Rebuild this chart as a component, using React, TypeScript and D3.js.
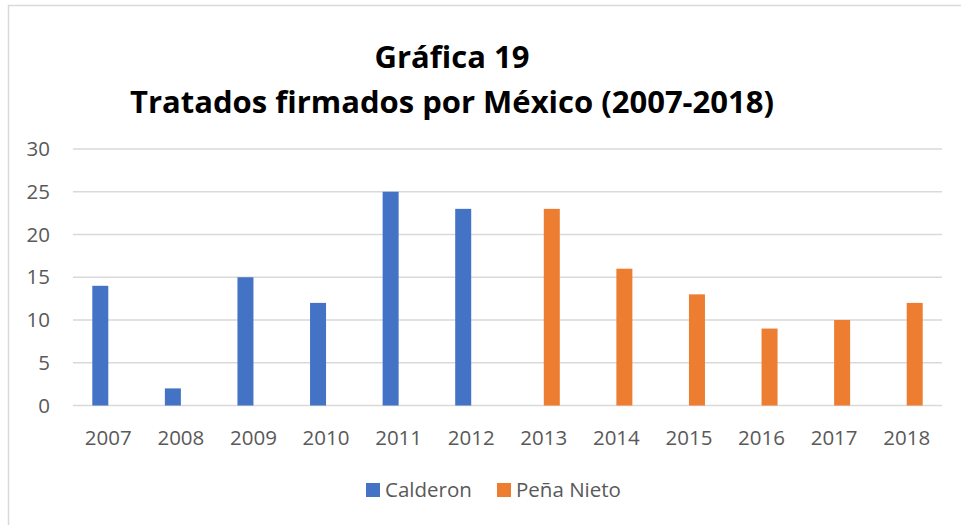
import React from "react";
import * as d3 from "d3";

const years = ["2007","2008","2009","2010","2011","2012","2013","2014","2015","2016","2017","2018"];
const seriesNames = ["Calderon", "Peña Nieto"];
const calderon = [14, 2, 15, 12, 25, 23, 0, 0, 0, 0, 0, 0];
const penaNieto = [0, 0, 0, 0, 0, 0, 23, 16, 13, 9, 10, 12];
const yTicks = [0, 5, 10, 15, 20, 25, 30];
const titleLines = ["Gráfica 19", "Tratados firmados por México (2007-2018)"];
const colors = ["#4472C4", "#ED7D31"];

const W = 961, H = 525;
const FONT = "'Open Sans', 'Noto Sans', sans-serif";
const TEXT = "#595959";
const GRID = "#d9d9d9";

export default function App() {
  const x = d3.scaleBand<string>().domain(years).range([72, 943]).paddingInner(0).paddingOuter(0);
  const y = d3.scaleLinear().domain([0, 30]).range([405.5, 149]);
  const barW = 16;
  const inner = d3.scaleBand<string>().domain(seriesNames)
    .range([x.bandwidth() / 2 - barW, x.bandwidth() / 2 + barW]);
  const data = [calderon, penaNieto];

  return (
    <svg width={W} height={H} style={{ position: "absolute", left: 0, top: 0, background: "#fff" }}>
      <rect x={8.5} y={5.5} width={W + 20} height={H + 20} fill="#fff" stroke={GRID} strokeWidth={1.5} />
      {titleLines.map((t, i) => (
        <text key={t} x={452} y={68 + i * 44.5} textAnchor="middle" fontFamily={FONT} fontWeight={700}
          fontSize={31} fill="#000">{t}</text>
      ))}
      {yTicks.map((v) => (
        <g key={v}>
          <line x1={73} x2={942} y1={y(v)} y2={y(v)} stroke={GRID} strokeWidth={1.5} />
          <text x={50} y={y(v)} dy="0.35em" textAnchor="end" fontFamily={FONT} fontSize={20.5} fill={TEXT}>{v}</text>
        </g>
      ))}
      {seriesNames.map((s, si) => (
        <g key={s}>
          {years.map((yr, i) => data[si][i] > 0 ? (
            <rect key={yr} x={(x(yr) ?? 0) + (inner(s) ?? 0)} width={inner.bandwidth()}
              y={y(data[si][i])} height={y(0) - y(data[si][i])} fill={colors[si]} />
          ) : null)}
        </g>
      ))}
      {years.map((yr) => (
        <text key={yr} x={(x(yr) ?? 0) + x.bandwidth() / 2} y={445} textAnchor="middle"
          fontFamily={FONT} fontSize={20.5} fill={TEXT}>{yr}</text>
      ))}
      {seriesNames.map((s, si) => {
        const lx = [366, 497][si];
        return (
          <g key={s}>
            <rect x={lx} y={483} width={14} height={14} fill={colors[si]} />
            <text x={lx + 19} y={497} fontFamily={FONT} fontSize={20.5} fill={TEXT}>{s}</text>
          </g>
        );
      })}
    </svg>
  );
}
